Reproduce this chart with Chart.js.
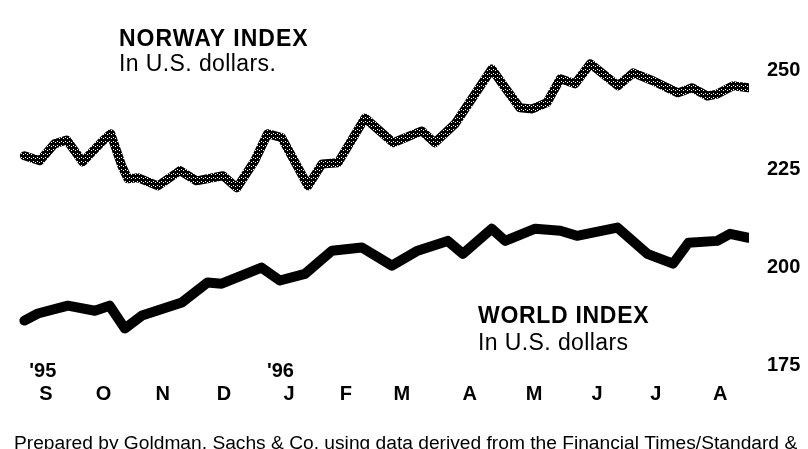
<!DOCTYPE html>
<html>
<head>
<meta charset="utf-8">
<script src="https://cdn.jsdelivr.net/npm/chart.js@4/dist/chart.umd.min.js"></script>
<style>
  html, body { margin: 0; padding: 0; background: #fff; overflow: hidden; }
  #wrap { width: 808px; height: 456px; position: relative; }
</style>
</head>
<body>
<div id="wrap"><canvas id="c"></canvas></div>
<script>
// ---- DATA (x = months since 1 Sep 1995) ----
const norwayMonths = [0.17,0.42,0.66,0.86,1.12,1.45,1.58,1.76,1.86,2.02,2.35,2.71,2.98,3.41,3.64,3.93,4.14,4.37,4.80,5.03,5.29,5.73,6.19,6.66,6.87,7.20,7.80,8.02,8.26,8.46,8.70,8.92,9.16,9.41,9.86,10.11,10.43,10.84,11.07,11.32,11.48,11.74,11.99];
const norwayValues = [228.4,227.1,231.4,232.4,226.8,232.2,234.0,225.8,222.5,222.8,220.7,224.6,222.0,223.3,220.2,227.1,234.0,233.0,220.7,226.3,226.6,238.0,231.7,234.7,231.7,236.5,250.5,245.7,240.6,240.3,241.9,248.0,246.7,251.8,246.2,249.5,247.5,244.4,245.7,243.6,244.1,246.2,245.7];
const worldMonths = [0.17,0.39,0.88,1.32,1.56,1.81,2.09,2.74,3.16,3.39,4.04,4.34,4.75,5.19,5.68,6.17,6.59,7.08,7.33,7.80,8.02,8.51,8.92,9.19,9.85,10.34,10.76,11.01,11.48,11.69,11.99];
const worldValues = [186.4,188.2,190.2,188.9,190.2,184.4,187.7,191.0,196.1,195.8,199.9,196.6,198.3,204.2,205.0,200.4,204.2,206.7,203.4,209.8,206.7,209.8,209.3,208.0,210.1,203.4,200.9,206.2,206.7,208.5,207.5];
const monthLabels = ['S','O','N','D','J','F','M','A','M','J','J','A'];
const monthTickPos = [0.52,1.46,2.43,3.43,4.49,5.42,6.33,7.44,8.49,9.52,10.48,11.53];
const yearLabels = ["'95","'96"];
const yearTickPos = [0.47,4.35];
const yTicks = [175,200,225,250];
const footnote = 'Prepared by Goldman, Sachs & Co. using data derived from the Financial Times/Standard &';

const FONT = "'Liberation Sans', Arial, Helvetica, sans-serif";

// stippled pattern for the Norway line
function stipple() {
  const p = document.createElement('canvas');
  p.width = 4; p.height = 4;
  const g = p.getContext('2d');
  g.fillStyle = '#000'; g.fillRect(0,0,4,4);
  g.fillStyle = '#fff';
  g.fillRect(1,1,1,1); g.fillRect(3,2,1,1);
  return g.createPattern(p, 'repeat');
}

function spaced(ctx, text, x, y, spacing) {
  if ('letterSpacing' in ctx) {
    ctx.letterSpacing = spacing + 'px';
    ctx.fillText(text, x, y);
    ctx.letterSpacing = '0px';
  } else {
    ctx.fillText(text, x, y);
  }
}

const annotations = {
  id: 'annotations',
  afterDraw(chart) {
    const ctx = chart.ctx;
    const xs = chart.scales.x;
    ctx.save();
    ctx.fillStyle = '#000';
    ctx.textBaseline = 'alphabetic';
    ctx.textAlign = 'left';
    ctx.font = `bold 23px ${FONT}`;
    spaced(ctx, 'NORWAY INDEX', 119, 46, 1);
    ctx.font = `23px ${FONT}`;
    spaced(ctx, 'In U.S. dollars.', 119, 71, 0.4);
    ctx.font = `bold 23px ${FONT}`;
    spaced(ctx, 'WORLD INDEX', 478, 323, 0.7);
    ctx.font = `23px ${FONT}`;
    spaced(ctx, 'In U.S. dollars', 478, 350, 0.4);
    // year markers, placed with the x scale
    ctx.font = `bold 20px ${FONT}`;
    ctx.textAlign = 'center';
    ctx.textBaseline = 'middle';
    yearLabels.forEach((t, i) => {
      ctx.fillText(t, xs.getPixelForValue(yearTickPos[i]), 371);
    });
    ctx.restore();
  }
};

new Chart(document.getElementById('c'), {
  type: 'line',
  data: {
    datasets: [
      {
        label: 'Norway index',
        data: norwayMonths.map((m, i) => ({ x: m, y: norwayValues[i] })),
        borderColor: stipple(),
        borderWidth: 9,
        pointRadius: 0,
        tension: 0,
        borderJoinStyle: 'round',
        borderCapStyle: 'round'
      },
      {
        label: 'World index',
        data: worldMonths.map((m, i) => ({ x: m, y: worldValues[i] })),
        borderColor: '#000',
        borderWidth: 10,
        pointRadius: 0,
        tension: 0,
        borderJoinStyle: 'round',
        borderCapStyle: 'round'
      }
    ]
  },
  options: {
    responsive: true,
    maintainAspectRatio: false,
    animation: false,
    devicePixelRatio: 1,
    layout: { padding: { top: 12, left: 14, right: 0, bottom: 0 } },
    plugins: {
      legend: { display: false },
      tooltip: { enabled: false },
      title: {
        display: true,
        position: 'bottom',
        align: 'start',
        text: footnote,
        color: '#000',
        font: { family: FONT, size: 19.2, weight: 'normal', lineHeight: 1.2 },
        padding: { top: 17.5, bottom: 0.5 }
      }
    },
    scales: {
      x: {
        type: 'linear',
        min: 0,
        max: 12,
        grid: { display: false, drawTicks: false },
        border: { display: false },
        afterBuildTicks: (s) => { s.ticks = monthTickPos.map(v => ({ value: v })); },
        afterFit: (s) => { s.height = 30; s.paddingLeft = 0; s.paddingRight = 0; },
        ticks: {
          autoSkip: false,
          maxRotation: 0,
          padding: 0,
          color: '#000',
          font: { family: FONT, size: 20, weight: 'bold', lineHeight: 1 },
          callback: (v, i) => monthLabels[i]
        }
      },
      y: {
        position: 'right',
        min: 170,
        max: 265,
        grid: { display: false, drawTicks: false },
        border: { display: false },
        afterBuildTicks: (s) => { s.ticks = yTicks.map(v => ({ value: v })); },
        afterFit: (s) => { s.width = 59; s.paddingTop = 0; s.paddingBottom = 0; },
        ticks: {
          padding: 18,
          color: '#000',
          font: { family: FONT, size: 20, weight: 'bold' },
          callback: (v) => String(v)
        }
      }
    }
  },
  plugins: [annotations]
});
</script>
</body>
</html>
